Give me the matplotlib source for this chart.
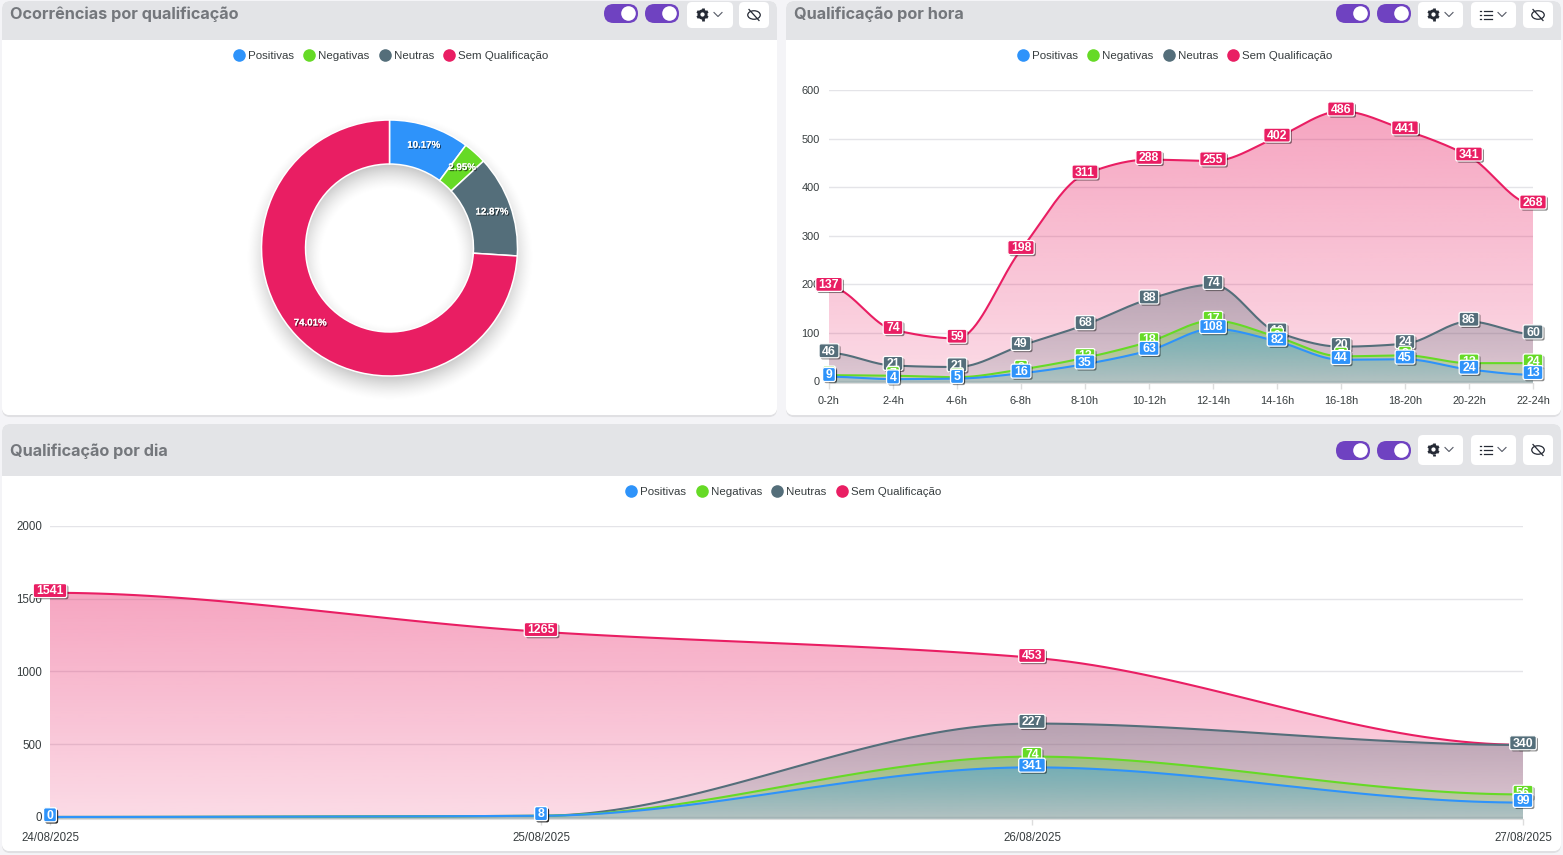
import numpy as np
import matplotlib
matplotlib.use("Agg")
import matplotlib.pyplot as plt
import matplotlib.patheffects as pe
from matplotlib.patches import BoxStyle, Circle, Ellipse, FancyBboxPatch, PathPatch, Rectangle
from matplotlib.path import Path

W, H = 1563, 855
plt.rcParams['font.family'] = ['Liberation Sans', 'DejaVu Sans']

series_names = ['Positivas', 'Negativas', 'Neutras', 'Sem Qualificação']
colors = ['#2E93FA', '#66DA26', '#546E7A', '#E91E63']
text_color = '#373D3F'

donut_share = [10.17, 2.95, 12.87, 74.01]

hours = ['0-2h', '2-4h', '4-6h', '6-8h', '8-10h', '10-12h', '12-14h',
         '14-16h', '16-18h', '18-20h', '20-22h', '22-24h']
hour_pos = [9, 4, 5, 16, 35, 63, 108, 82, 44, 45, 24, 13]
hour_neg = [3, 7, 3, 8, 13, 18, 17, 9, 7, 8, 13, 24]
hour_neu = [46, 21, 21, 49, 68, 88, 74, 10, 20, 24, 86, 60]
hour_sem = [137, 74, 59, 198, 311, 288, 255, 402, 486, 441, 341, 268]
hour_ticks = [0, 100, 200, 300, 400, 500, 600]

days = ['24/08/2025', '25/08/2025', '26/08/2025', '27/08/2025']
day_pos = [0, 8, 341, 99]
day_neg = [0, 0, 74, 56]
day_neu = [0, 0, 227, 340]
day_sem = [1541, 1265, 453, 1]
day_ticks = [0, 500, 1000, 1500, 2000]


def smooth(y, per_seg=40):
    # monotone cubic through the points, flat at both ends
    y = np.asarray(y, dtype=float)
    d = np.diff(y)
    m = np.zeros(len(y))
    for i in range(1, len(y) - 1):
        if d[i - 1] * d[i] > 0:
            m[i] = 2 * d[i - 1] * d[i] / (d[i - 1] + d[i])
    xs, ys = [], []
    t = np.linspace(0, 1, per_seg, endpoint=False)
    for i in range(len(d)):
        h00 = 2 * t**3 - 3 * t**2 + 1
        h10 = t**3 - 2 * t**2 + t
        h01 = -2 * t**3 + 3 * t**2
        h11 = t**3 - t**2
        xs.append(i + t)
        ys.append(h00 * y[i] + h10 * m[i] + h01 * y[i + 1] + h11 * m[i + 1])
    xs.append([len(y) - 1.0])
    ys.append([y[-1]])
    return np.concatenate(xs), np.concatenate(ys)


def label_box(x0, y0, width, height, mutation_size):
    cy = y0 + height / 2 + 0.8
    return BoxStyle.Round(pad=0, rounding_size=2)(x0 - 3, cy - 7, width + 6, 14, 1.0)


def px_axes(fig, left, top, right, bottom):
    return fig.add_axes([left / W, 1 - bottom / H, (right - left) / W, (bottom - top) / H])


def area_chart(ax, stacks, labels_x, ticks, base, tick_size, ypad):
    n = len(labels_x)
    x_pos = np.arange(n)
    bottom = np.zeros(n)
    cumulative = []
    for vals in stacks:
        bottom = bottom + np.array(vals)
        cumulative.append(bottom.copy())

    # areas all run down to the baseline, the largest is painted first
    for i in range(3, -1, -1):
        sx, sy = smooth(cumulative[i])
        top = sy.max()
        rgba = np.zeros((128, 1, 4))
        rgba[..., :3] = matplotlib.colors.to_rgb(colors[i])
        rgba[:, 0, 3] = np.linspace(0.40, 0.16, 128)
        im = ax.imshow(rgba, extent=(0, n - 1, base, top), aspect='auto',
                       origin='upper', zorder=2 + (3 - i) * 0.1, interpolation='bilinear')
        verts = np.column_stack([np.r_[0, sx, n - 1], np.r_[base, sy, base]])
        im.set_clip_path(PathPatch(Path(verts), transform=ax.transData))
    for i in range(3, -1, -1):
        sx, sy = smooth(cumulative[i])
        ax.plot(sx, sy, color=colors[i], lw=1.5, zorder=3 + (3 - i) * 0.1, solid_capstyle='butt')

    # value tags, later series sit on top of earlier ones
    for i in range(3, -1, -1):
        for k in range(n):
            t = ax.annotate(str(stacks[i][k]), (x_pos[k], cumulative[i][k]),
                            xytext=(0, 1), textcoords='offset points',
                            ha='center', va='center', fontsize=8.8, fontweight='bold',
                            color='white', zorder=10 + (3 - i),
                            annotation_clip=False,
                            bbox=dict(boxstyle=label_box, fc=colors[i], ec='white', lw=0.9))
            t.get_bbox_patch().set_path_effects([
                pe.withSimplePatchShadow(offset=(1.2, -1.2), shadow_rgbFace='black', alpha=0.45)])

    ax.set_xlim(0, n - 1)
    ax.set_ylim(base, ticks[-1])
    ax.set_xticks(x_pos, labels_x)
    ax.set_yticks(ticks)
    ax.set_axisbelow(True)
    ax.grid(axis='y', color='#E4E4E8', lw=1)
    ax.tick_params(axis='x', length=4, width=1, color='#DDDDDD', pad=5.5,
                   labelsize=tick_size, labelcolor=text_color)
    ax.tick_params(axis='y', length=0, pad=ypad, labelsize=tick_size, labelcolor=text_color)
    for s in ax.spines.values():
        s.set_visible(False)
    ax.spines['bottom'].set_visible(True)
    ax.spines['bottom'].set_color('#DDDDDD')
    ax.patch.set_alpha(0)


def panel(ui, x0, y0, x1, y1, header_bottom):
    card = FancyBboxPatch((x0, y0), x1 - x0, y1 - y0, boxstyle='round,pad=0,rounding_size=8',
                          fc='white', ec='none', zorder=1)
    card.set_path_effects([pe.withSimplePatchShadow(offset=(0, -1.5), shadow_rgbFace='black', alpha=0.08),
                           pe.Normal()])
    ui.add_patch(card)
    band = Rectangle((x0, y0), x1 - x0, header_bottom - y0, fc='#E3E4E7', ec='none', zorder=1.1)
    ui.add_patch(band)
    band.set_clip_path(card)


def toggle(ui, x0, y0):
    ui.add_patch(FancyBboxPatch((x0, y0), 34, 19, boxstyle='round,pad=0,rounding_size=9.5',
                                fc='#6F42C1', ec='none', zorder=2))
    ui.add_patch(Circle((x0 + 24.5, y0 + 9.5), 7.3, fc='white', ec='none', zorder=3))


def button(ui, x0, y0, x1, y1):
    ui.add_patch(FancyBboxPatch((x0, y0), x1 - x0, y1 - y0, boxstyle='round,pad=0,rounding_size=5',
                                fc='white', ec='none', zorder=2))


def chevron(ui, cx, cy):
    ui.plot([cx - 4, cx, cx + 4], [cy - 2, cy + 2, cy - 2], color='#555A66', lw=0.8, zorder=3)


def gear_button(ui, x0, y0, x1, y1):
    button(ui, x0, y0, x1, y1)
    cx, cy = x0 + 15.5, (y0 + y1) / 2 - 0.5
    ui.add_patch(Circle((cx, cy), 3.6, fc='none', ec='#252A35', lw=2.1, zorder=3))
    for a in np.deg2rad(np.arange(0, 360, 60) + 30):
        ui.plot([cx + 4 * np.cos(a), cx + 6.2 * np.cos(a)], [cy + 4 * np.sin(a), cy + 6.2 * np.sin(a)],
                color='#252A35', lw=2.0, zorder=3, solid_capstyle='butt')
    chevron(ui, x0 + 31, cy)


def list_button(ui, x0, y0, x1, y1):
    button(ui, x0, y0, x1, y1)
    cy = (y0 + y1) / 2
    for dy in (-4, 0, 4):
        ui.plot([x0 + 12.5, x0 + 21], [cy + dy, cy + dy], color='#252A35', lw=0.9, zorder=3)
        ui.plot([x0 + 8.5, x0 + 9.5], [cy + dy, cy + dy], color='#252A35', lw=0.9, zorder=3)
    chevron(ui, x0 + 31, cy - 0.5)


def eye_button(ui, x0, y0, x1, y1):
    button(ui, x0, y0, x1, y1)
    cx, cy = (x0 + x1) / 2, (y0 + y1) / 2
    ui.add_patch(Ellipse((cx, cy), 12.5, 8.5, fc='none', ec='#252A35', lw=0.9, zorder=3))
    ui.plot([cx - 5, cx + 5], [cy - 5.5, cy + 5.5], color='#252A35', lw=0.9, zorder=3)


def legend(ui, xs, y):
    for cx, name, col in zip(xs, series_names, colors):
        ui.scatter([cx], [y], s=82, color=col, linewidths=0, zorder=3)
        ui.text(cx + 9, y + 0.8, name, fontsize=8.25, color=text_color, ha='left', va='center', zorder=3)


fig = plt.figure(figsize=(W / 100, H / 100), dpi=100, facecolor='#F4F4F7')
ui = fig.add_axes([0, 0, 1, 1])
ui.set_xlim(0, W)
ui.set_ylim(H, 0)
ui.axis('off')

# page furniture: cards, header bands, controls
panel(ui, 2, 1, 777, 415, 40)
panel(ui, 786, 1, 1561, 415, 40)
panel(ui, 2, 424, 1561, 851, 476)

title_kw = dict(fontsize=11.7, fontweight='bold', family=['Inter', 'DejaVu Sans'],
                color='#74777C', ha='left', va='center', zorder=3)
ui.text(10, 14, 'Ocorrências por qualificação', **title_kw)
ui.text(794, 14, 'Qualificação por hora', **title_kw)
ui.text(10, 451, 'Qualificação por dia', **title_kw)

toggle(ui, 604, 4)
toggle(ui, 645, 4)
gear_button(ui, 687, 2, 733, 28)
eye_button(ui, 739, 2, 769, 28)

toggle(ui, 1336, 4)
toggle(ui, 1377, 4)
gear_button(ui, 1418, 2, 1463, 28)
list_button(ui, 1471, 2, 1516, 28)
eye_button(ui, 1523, 2, 1553, 28)

toggle(ui, 1336, 441)
toggle(ui, 1377, 441)
gear_button(ui, 1418, 435, 1463, 465)
list_button(ui, 1471, 435, 1516, 465)
eye_button(ui, 1523, 435, 1553, 465)

legend(ui, [239, 309, 385, 449], 55)
legend(ui, [1023, 1093, 1169, 1233], 55)
legend(ui, [631, 702, 777, 842], 491)

# donut with a soft drop shadow under the ring
dx = px_axes(fig, 229.5, 88, 549.5, 408)
dx.set_xlim(-1.25, 1.25)
dx.set_ylim(-1.25, 1.25)
dx.axis('off')
gx, gy = np.meshgrid(np.linspace(-1.25, 1.25, 400), np.linspace(-1.25, 1.25, 400))
dist = np.hypot(gx, gy + 0.07)
blur = 0.13
ring = np.clip((1 + blur - dist) / (2 * blur), 0, 1) * np.clip((dist - 0.656 + blur) / (2 * blur), 0, 1)
shadow = np.zeros((400, 400, 4))
shadow[..., 3] = 0.34 * ring**1.5
dx.imshow(shadow, extent=(-1.25, 1.25, -1.25, 1.25), origin='lower', aspect='auto', zorder=0)
wedges, _, pcts = dx.pie(donut_share, colors=colors, startangle=90, counterclock=False,
                         radius=1, autopct='%.2f%%', pctdistance=0.85,
                         wedgeprops=dict(width=0.344, edgecolor='white', linewidth=1.1))
dx.set_xlim(-1.25, 1.25)
dx.set_ylim(-1.25, 1.25)
for t in pcts:
    t.set_fontsize(7.0)
    t.set_fontweight('bold')
    t.set_color('white')
    t.set_path_effects([pe.withSimplePatchShadow(offset=(0.8, -0.8), shadow_rgbFace='black', alpha=0.6),
                        pe.Normal()])

ax_hour = px_axes(fig, 829, 90.3, 1533, 383)
area_chart(ax_hour, [hour_pos, hour_neg, hour_neu, hour_sem], hours, hour_ticks, -4, 7.9, 6.5)

ax_day = px_axes(fig, 50, 526, 1523, 819)
area_chart(ax_day, [day_pos, day_neg, day_neu, day_sem], days, day_ticks, -14, 8.3, 5.8)

fig.savefig('out.png', dpi=100, facecolor=fig.get_facecolor())
